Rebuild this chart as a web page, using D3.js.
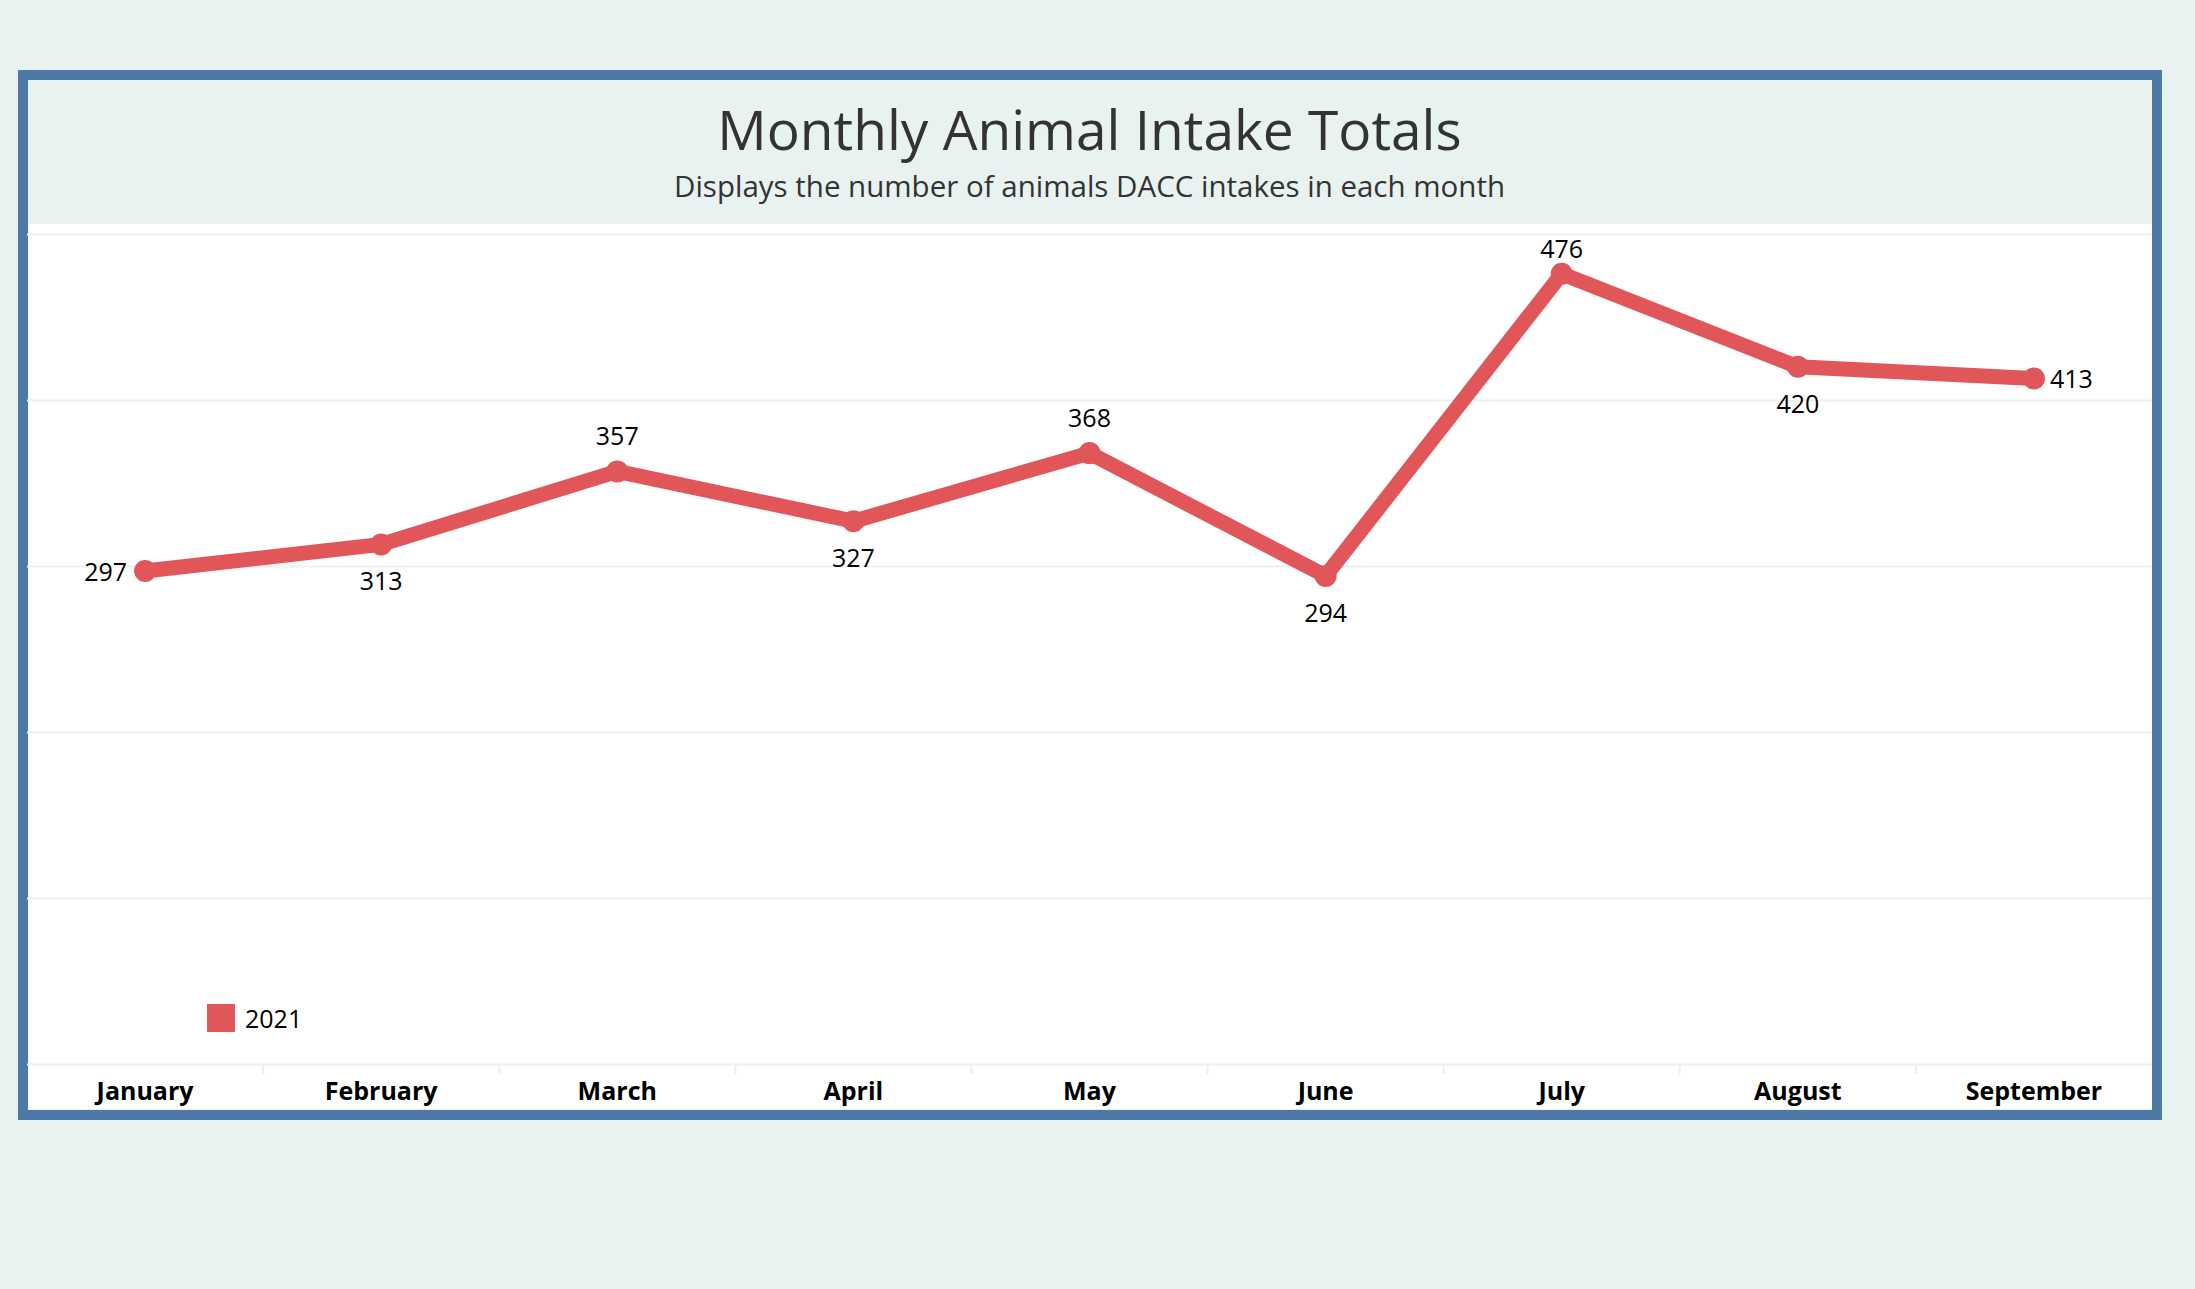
<!DOCTYPE html>
<html>
<head>
<meta charset="utf-8">
<script src="https://cdnjs.cloudflare.com/ajax/libs/d3/7.8.5/d3.min.js"></script>
<style>
  html, body { margin: 0; padding: 0; background: #e8f2f0; }
  svg { display: block; font-family: "Open Sans", Lato, sans-serif; }
</style>
</head>
<body>
<svg id="chart"></svg>
<script>
const months = ['January', 'February', 'March', 'April', 'May', 'June', 'July', 'August', 'September'];
const intake2021 = [297, 313, 357, 327, 368, 294, 476, 420, 413];
const labelSide = ['left', 'below', 'above', 'below', 'above', 'below', 'above', 'below', 'right'];
const gridTicks = [0, 100, 200, 300, 400, 500];
const seriesName = '2021';

const width = 2195;
const height = 1289;

const svg = d3.select('#chart').attr('width', width).attr('height', height);

svg.append('rect')
  .attr('width', width).attr('height', height)
  .attr('fill', '#e8f2f0');

// frame
const frame = { x: 18, y: 70, w: 2144, h: 1050, stroke: 10 };
const inner = {
  left: frame.x + frame.stroke - 1,
  right: frame.x + frame.w - frame.stroke,
  top: frame.y + frame.stroke,
  bottom: frame.y + frame.h - frame.stroke - 1,
};

const plotTop = 224;
const plotBottom = 1064;

// header band
svg.append('rect')
  .attr('x', inner.left).attr('y', inner.top)
  .attr('width', inner.right - inner.left).attr('height', plotTop - inner.top)
  .attr('fill', '#e8f2f0');

// white plot + axis area
svg.append('rect')
  .attr('x', inner.left).attr('y', plotTop)
  .attr('width', inner.right - inner.left).attr('height', inner.bottom - plotTop)
  .attr('fill', '#ffffff');

svg.append('rect')
  .attr('x', frame.x + frame.stroke / 2).attr('y', frame.y + frame.stroke / 2)
  .attr('width', frame.w - frame.stroke).attr('height', frame.h - frame.stroke)
  .attr('fill', 'none')
  .attr('stroke', '#4e79a7')
  .attr('stroke-width', frame.stroke);

//
// TITLES
//
const cx = (inner.left + inner.right) / 2;

svg.append('text')
  .attr('x', cx).attr('y', 150)
  .attr('text-anchor', 'middle')
  .attr('font-size', 55)
  .attr('fill', '#333333')
  .text('Monthly Animal Intake Totals');

svg.append('text')
  .attr('x', cx).attr('y', 197)
  .attr('text-anchor', 'middle')
  .attr('font-size', 29.5)
  .attr('fill', '#333333')
  .text('Displays the number of animals DACC intakes in each month');

//
// SCALES
//
const x = d3.scaleBand().domain(months).range([inner.left, inner.right]);

const y = d3.scaleLinear().domain([0, 500]).range([plotBottom, 234]);

//
// GRID LINES
//
svg.append('g')
  .attr('class', 'grid')
  .attr('transform', `translate(${inner.left},0)`)
  .call(d3.axisLeft(y).tickValues(gridTicks).tickSize(-(inner.right - inner.left)).tickFormat(() => ''))
  .call((g) => g.select('.domain').remove())
  .call((g) => g.selectAll('.tick line').attr('stroke', '#efefef').attr('stroke-width', 2));

//
// X AXIS
//
const xAxis = svg.append('g')
  .attr('transform', `translate(0,${plotBottom})`)
  .call(d3.axisBottom(x).tickSize(0).tickPadding(18));

xAxis.select('.domain').remove();
xAxis.selectAll('.tick text')
  .attr('font-family', '"Open Sans", sans-serif')
  .attr('font-size', 25)
  .attr('font-weight', 'bold')
  .attr('fill', '#000000');

// band dividers
svg.append('g')
  .selectAll('line')
  .data(months.slice(1))
  .join('line')
  .attr('x1', (d) => x(d)).attr('x2', (d) => x(d))
  .attr('y1', plotBottom).attr('y2', plotBottom + 10)
  .attr('stroke', '#efefef')
  .attr('stroke-width', 2);

//
// INTAKE LINE
//
const px = (d, i) => x(months[i]) + x.bandwidth() / 2;

const line = d3.line()
  .x(px)
  .y((d) => y(d));

svg.append('path')
  .datum(intake2021)
  .attr('fill', 'none')
  .attr('stroke', '#e15759')
  .attr('stroke-width', 15)
  .attr('stroke-linejoin', 'round')
  .attr('d', line);

svg.append('g')
  .selectAll('circle')
  .data(intake2021)
  .join('circle')
  .attr('cx', px)
  .attr('cy', (d) => y(d))
  .attr('r', 11)
  .attr('fill', '#e15759');

// value labels (kept inside the pane at the top)
const labelY = (d, i) => {
  if (labelSide[i] === 'above') return Math.max(y(d) - 36, plotTop + 24);
  if (labelSide[i] === 'below') return y(d) + 36;
  return y(d);
};

svg.append('g')
  .selectAll('text')
  .data(intake2021)
  .join('text')
  .attr('font-size', 25)
  .attr('fill', '#000000')
  .attr('dominant-baseline', 'central')
  .attr('text-anchor', (d, i) => labelSide[i] === 'left' ? 'end' : labelSide[i] === 'right' ? 'start' : 'middle')
  .attr('x', (d, i) => px(d, i) + (labelSide[i] === 'left' ? -18 : labelSide[i] === 'right' ? 16 : 0))
  .attr('y', labelY)
  .text((d) => d);

//
// LEGEND
//
const legend = svg.append('g').attr('transform', 'translate(207,1004)');
legend.append('rect').attr('width', 28).attr('height', 28).attr('fill', '#e15759');
legend.append('text')
  .attr('x', 38).attr('y', 14)
  .attr('dominant-baseline', 'central')
  .attr('font-size', 25)
  .attr('fill', '#000000')
  .text(seriesName);
</script>
</body>
</html>
